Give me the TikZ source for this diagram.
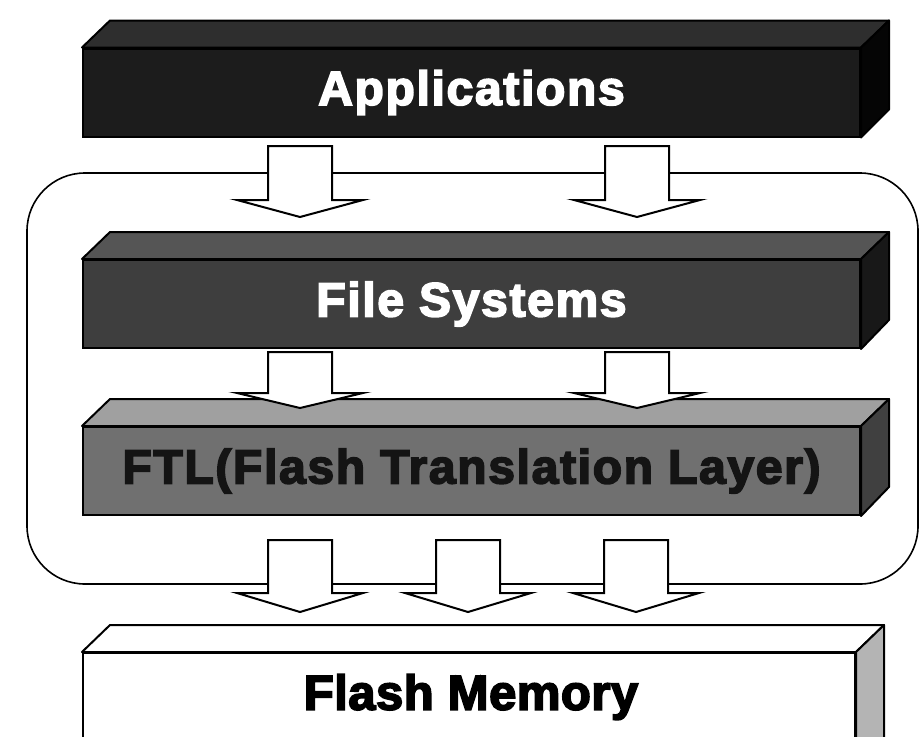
\documentclass[tikz,border=0pt]{standalone}
\usepackage{fontspec}
\setmainfont{Liberation Sans}
\newfontfamily\heavyfont{Liberation Sans}[UprightFont={* Bold}, UprightFeatures={FakeBold=3.5}, LetterSpace=3.5]
\newfontfamily\heavyfontb{Liberation Sans}[UprightFont={* Bold}, UprightFeatures={FakeBold=3.5}, LetterSpace=1]
\definecolor{appsfront}{HTML}{1C1C1C}
\definecolor{appstop}{HTML}{2E2E2E}
\definecolor{appsside}{HTML}{050505}
\definecolor{fsfront}{HTML}{3E3E3E}
\definecolor{fstop}{HTML}{555555}
\definecolor{fsside}{HTML}{181818}
\definecolor{ftlfront}{HTML}{707070}
\definecolor{ftltop}{HTML}{A0A0A0}
\definecolor{ftlside}{HTML}{404040}
\definecolor{fmside}{HTML}{B4B4B4}
\newcommand\BlockArr[4]{%
  \draw[blockarrow] (#1-32,#2) -- (#1+32,#2) -- (#1+32,#3) -- (#1+63,#3)
    -- (#1,#4) -- (#1-63,#3) -- (#1-32,#3) -- cycle;}
\newcommand\BoxFaces[4]{% node, top colour, side colour, height
  \draw[facedge, fill=#2] (#1.north west) -- ++(28,27)
    -- ([shift={(28,27)}]#1.north east) -- (#1.north east) -- cycle;
  \draw[facedge, fill=#3] (#1.north east) -- ++(28,27) -- ++(0,-#4)
    -- (#1.south east) -- cycle;}
\tikzset{
  layer/.style={draw=black, line width=2pt, minimum width=777pt,
    minimum height=88pt, inner sep=0pt,
    font=\heavyfont\fontsize{48}{55}\selectfont},
  facedge/.style={draw=black, line width=2pt, line join=round},
  blockarrow/.style={draw=black, fill=white, line width=2pt, line join=miter},
  group/.style={draw=black, line width=1.6pt, rounded corners=58pt,
    minimum width=891pt, minimum height=411pt, inner sep=0pt}
}
\begin{document}
\begin{tikzpicture}[x=1pt,y=1pt]
\useasboundingbox (0,-736) rectangle (920,0);
\fill[white] (0,-736) rectangle (920,0);
\clip (0,-736) rectangle (920,0);
% enclosing rounded frame
\node[group] (grp) at (472.5,-378.5) {};
% layers
\node[layer, fill=appsfront, text=white] (apps) at (471.5,-92.5) {Applications};
\BoxFaces{apps}{appstop}{appsside}{89}
\node[layer, fill=fsfront, text=white] (fs) at (471.5,-304) {File Systems};
\BoxFaces{fs}{fstop}{fsside}{88}
\node[layer, fill=ftlfront, text=black!92] (ftl) at (471.5,-471) {FTL(Flash Translation Layer)};
\BoxFaces{ftl}{ftltop}{ftlside}{88}
\node[layer, fill=white, minimum width=772pt, minimum height=120pt] (fm) at (469,-713) {};
\BoxFaces{fm}{white}{fmside}{120}
\node[font=\heavyfontb\fontsize{49}{56}\selectfont, text=black] (fmtext) at (471,-697) {Flash Memory};
% block arrows
\BlockArr{300}{-146}{-200}{-217}
\BlockArr{637}{-146}{-200}{-217}
\BlockArr{300}{-352}{-393}{-408}
\BlockArr{637}{-352}{-393}{-408}
\BlockArr{300}{-540}{-593}{-612}
\BlockArr{468}{-540}{-593}{-612}
\BlockArr{636}{-540}{-593}{-612}
\end{tikzpicture}
\end{document}
